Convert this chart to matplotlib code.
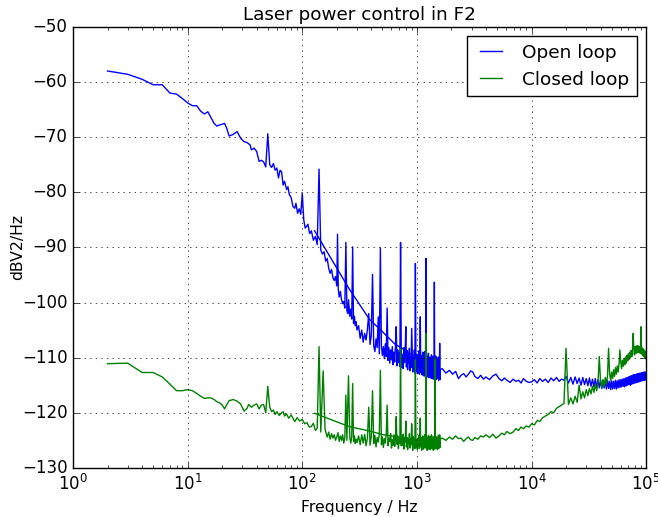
import numpy as np
import matplotlib
matplotlib.use('Agg')
from matplotlib import pyplot as plt

# open loop, low frequency part (Hz, dBV2/Hz)
open_lo_f = [2, 3, 4, 5, 6, 7, 8, 9, 10, 11, 12, 13, 14, 15, 16, 17, 18, 19, 21, 22,
             23, 25, 27, 29, 31, 33, 35, 36, 38, 40, 42, 44, 46, 48, 50, 52, 54, 56, 58, 60,
             62, 64, 66, 68, 70, 73, 75, 77, 80, 83, 86, 88, 91, 94, 97, 100, 103, 106, 109, 112,
             116, 120, 125, 130, 135, 140, 145, 150, 155, 160, 165, 170, 175, 180, 185, 190, 195, 200, 203, 206,
             210, 215, 220, 225, 230, 235, 240, 245, 250, 253, 260, 265, 270, 275, 280, 285, 290, 295, 300]
open_lo_db = [-58.0, -58.6, -59.5, -60.5, -60.5, -62.0, -62.2, -63.0, -63.8, -64.3, -64.3, -65.3, -65.8, -65.4, -66.5, -67.5, -68.0, -67.8, -67.5, -68.5,
              -69.8, -69.5, -69.0, -70.2, -70.8, -71.0, -71.4, -72.3, -72.0, -72.6, -74.4, -74.2, -74.5, -75.4, -69.4, -75.0, -75.5, -74.8, -76.0, -75.6,
              -77.4, -76.0, -76.3, -78.7, -78.0, -79.5, -79.0, -80.4, -81.0, -82.6, -82.9, -82.0, -83.8, -83.0, -84.0, -80.2, -85.0, -86.5, -86.2, -85.8,
              -87.5, -87.0, -88.7, -88.0, -89.5, -75.8, -90.5, -91.2, -90.8, -92.5, -92.0, -93.8, -94.7, -94.0, -95.5, -96.0, -95.3, -97.0, -87.6, -97.5,
              -99.0, -98.0, -99.5, -100.2, -99.8, -101.0, -89.1, -101.5, -102.0, -99.5, -102.5, -101.2, -103.0, -89.9, -103.8, -102.5, -104.2, -103.5, -105.0]

# open loop, dense part 310..1600 Hz, 10 Hz bins
open_mid_db = [-104.2, -106.5, -105.0, -107.2, -105.6, -106.8, -104.9, -102.0, -107.6, -106.0,
               -94.9, -107.8, -108.9, -106.6, -108.2, -102.6, -109.3, -90.1, -107.9, -109.6,
               -108.0, -110.2, -107.5, -109.8, -101.0, -110.5, -108.2, -111.0, -108.6, -110.4,
               -108.0, -111.3, -109.0, -110.8, -107.8, -104.4, -111.5, -108.6, -110.9, -109.2,
               -111.6, -89.1, -108.5, -111.8, -109.4, -112.0, -108.2, -110.9, -109.0, -104.4,
               -111.7, -108.7, -112.2, -109.5, -111.0, -108.3, -112.4, -109.9, -111.8, -104.7,
               -109.0, -112.6, -110.0, -111.9, -108.6, -112.8, -92.9, -110.2, -112.5, -109.4,
               -112.9, -110.1, -111.6, -108.8, -113.0, -110.3, -102.6, -112.7, -109.6, -113.1,
               -110.4, -112.2, -109.0, -113.3, -110.6, -112.0, -108.9, -113.4, -110.1, -92.0,
               -112.6, -109.8, -113.5, -110.7, -112.1, -109.2, -113.6, -110.5, -112.4, -109.9,
               -113.7, -110.8, -112.0, -109.5, -113.8, -111.0, -112.6, -109.8, -113.9, -110.6,
               -112.3, -96.3, -113.9, -110.9, -112.8, -109.7, -114.0, -111.2, -112.5, -110.1,
               -113.8, -111.4, -112.9, -109.9, -114.1, -111.0, -113.2, -107.4, -114.0, -112.3]

# closed loop, low frequency part
closed_lo_f = [2, 3, 4, 5, 6, 7, 8, 9, 10, 11, 12, 13, 14, 15, 16, 17, 18, 19, 20, 21,
               22, 23, 25, 27, 29, 31, 33, 34, 36, 38, 40, 42, 44, 46, 48, 50, 52, 54, 56, 58,
               60, 63, 66, 68, 70, 73, 76, 80, 83, 86, 90, 95, 100, 105, 110, 115, 120, 125, 130, 135,
               140, 145, 152, 158, 165, 170, 175, 180, 185, 190, 195, 200, 205, 210, 215, 220, 225, 230, 235, 240,
               245, 253, 260, 265, 270, 275, 280, 285, 290, 295, 300]
closed_lo_db = [-111.1, -111.0, -112.7, -112.7, -113.5, -114.8, -116.0, -116.0, -115.8, -116.0, -116.5, -117.0, -117.4, -117.3, -117.3, -117.6, -118.0, -118.2, -118.6, -119.3,
                -118.5, -117.8, -117.6, -117.9, -118.4, -119.7, -119.2, -118.5, -119.0, -118.6, -118.4, -119.3, -118.6, -118.5, -120.0, -115.2, -119.0, -119.8, -119.5, -120.3,
                -119.8, -120.5, -120.0, -119.8, -120.6, -120.2, -121.0, -120.4, -121.0, -121.6, -120.9, -121.5, -121.2, -122.0, -121.8, -122.6, -122.5, -121.9, -123.2, -122.8,
                -108.0, -123.5, -112.4, -123.0, -124.4, -123.5, -124.8, -123.8, -124.6, -124.0, -125.0, -124.4, -123.6, -125.2, -124.2, -125.0, -124.0, -125.5, -124.5, -116.8,
                -125.0, -113.3, -124.6, -125.5, -124.3, -114.7, -125.2, -124.2, -125.6, -124.8, -125.4]

closed_mid_db = [-124.2, -125.8, -124.0, -125.5, -123.9, -126.0, -124.6, -119.0, -125.9, -124.3,
                 -116.0, -125.6, -124.1, -126.2, -124.5, -125.3, -123.8, -112.3, -125.8, -124.4,
                 -126.3, -124.7, -125.5, -123.9, -118.6, -126.0, -124.6, -125.2, -123.8, -126.4,
                 -124.9, -125.9, -124.0, -126.1, -124.6, -120.7, -125.7, -124.2, -126.5, -124.8,
                 -125.5, -108.3, -126.0, -124.4, -125.9, -123.9, -126.6, -124.6, -125.3, -121.5,
                 -126.2, -124.5, -126.7, -124.9, -125.6, -123.8, -126.4, -124.7, -125.8, -122.0,
                 -125.0, -126.8, -124.3, -126.0, -124.8, -126.5, -110.4, -124.4, -126.3, -124.9,
                 -126.7, -124.6, -125.8, -124.1, -126.5, -124.8, -121.0, -126.2, -124.5, -126.8,
                 -124.7, -126.1, -124.2, -126.6, -124.9, -125.9, -124.0, -126.4, -124.6, -105.6,
                 -126.3, -124.5, -126.8, -124.8, -125.7, -124.1, -126.6, -124.9, -126.0, -124.3,
                 -126.7, -124.6, -125.8, -124.0, -126.5, -124.9, -126.2, -124.4, -126.8, -124.7,
                 -125.9, -124.2, -126.6, -110.1, -125.7, -124.3, -126.4, -124.8, -126.1, -124.5,
                 -126.7, -124.9, -125.6, -124.1, -126.5, -124.6, -126.2, -124.0, -126.3, -124.8]

# second measurement, coarse bins from 128 Hz up to 20 kHz
hi_f = [128, 256, 384, 512, 640, 768, 896, 1024, 1152, 1280, 1408, 1536, 1664, 1792, 1920, 2048, 2176, 2304, 2432, 2560,
        2688, 2816, 2944, 3072, 3200, 3400, 3600, 3800, 4000, 4300, 4600, 4900, 5200, 5500, 5800, 6100, 6500, 6900, 7300, 7700,
        8100, 8500, 9000, 9500, 10000, 10600, 11200, 11800, 12500, 13200, 14000, 14800, 15600, 16500, 17400, 18300, 19200]
open_hi_db = [-87.0, -97.5, -103.0, -105.5, -107.5, -108.5, -109.5, -110.0, -110.8, -111.2, -111.8, -112.3, -112.0, -112.8, -112.3, -113.0, -112.5, -113.8, -113.2, -112.9,
              -113.5, -113.0, -112.4, -112.6, -113.4, -113.8, -113.2, -113.9, -113.5, -114.0, -113.3, -113.0, -113.8, -114.2, -113.7, -114.1, -114.5, -113.9, -114.3, -114.1,
              -114.6, -113.8, -114.3, -114.5, -114.4, -114.0, -114.6, -113.8, -114.3, -113.9, -114.5, -113.7, -114.2, -113.6, -114.3, -113.9, -114.1]
closed_hi_db = [-120.1, -122.5, -123.3, -124.0, -124.3, -124.6, -124.8, -124.9, -125.0, -125.0, -125.1, -124.9, -124.6, -125.0, -124.4, -124.8, -124.2, -124.7, -124.6, -125.2,
                -124.7, -124.4, -124.9, -125.0, -124.5, -124.8, -124.2, -124.4, -124.0, -124.5, -123.9, -124.6, -124.2, -123.7, -124.0, -123.4, -123.8, -123.5, -122.9, -123.2,
                -122.6, -122.9, -122.4, -122.6, -122.0, -122.2, -121.4, -121.6, -120.9, -120.6, -120.3, -119.8, -120.0, -119.2, -118.9, -118.6, -118.3]

# 20 kHz .. 100 kHz, 1 kHz bins
open_top_db = [-113.4, -114.6, -113.6, -114.8, -113.5, -114.7, -113.7, -115.0, -113.6, -114.9,
               -113.8, -115.1, -113.7, -115.2, -113.9, -115.3, -113.8, -115.4, -114.0, -115.5,
               -114.0, -115.6, -114.1, -115.5, -114.2, -115.7, -114.1, -115.6, -114.3, -115.8,
               -114.2, -115.7, -114.3, -115.6, -114.1, -115.7, -114.2, -115.5, -114.0, -115.4,
               -114.0, -115.3, -113.9, -115.2, -113.8, -115.3, -113.7, -115.1, -113.6, -115.0,
               -113.5, -114.9, -113.4, -115.0, -113.3, -114.8, -113.2, -114.7, -113.1, -114.6,
               -113.1, -114.6, -113.0, -114.5, -112.9, -114.4, -112.9, -114.4, -112.8, -114.3,
               -112.8, -114.2, -112.7, -114.2, -112.7, -114.1, -112.6, -114.1, -112.6, -114.0,
               -113.2]
closed_top_db = [-108.3, -118.5, -117.3, -118.4, -117.0, -118.1, -115.0, -117.5, -116.2, -117.3,
                 -115.8, -116.9, -115.6, -116.6, -115.2, -116.3, -114.9, -116.0, -114.6, -109.8,
                 -114.3, -115.5, -114.0, -115.2, -113.6, -114.8, -113.3, -108.3, -113.0, -114.1,
                 -112.6, -113.8, -112.2, -113.4, -111.8, -113.0, -111.5, -112.6, -111.2, -108.6,
                 -110.8, -112.0, -110.5, -111.6, -110.2, -111.3, -109.9, -111.0, -109.6, -110.6,
                 -109.3, -110.3, -109.0, -110.0, -108.7, -109.8, -108.5, -105.6, -108.3, -109.5,
                 -108.0, -109.3, -107.9, -109.1, -107.8, -109.0, -107.9, -109.1, -108.0, -109.2,
                 -104.4, -109.3, -108.2, -109.6, -108.4, -109.8, -108.6, -110.0, -108.8, -110.2,
                 -109.3]

mid_f = np.arange(310, 1601, 10)
top_f = np.arange(20000, 100001, 1000)

plt.style.use('classic')
fig = plt.figure(figsize=(6.58, 5.17), dpi=100, facecolor='white')
ax = fig.add_axes([0.111, 0.095, 0.871, 0.853])

ax.plot(np.concatenate([open_lo_f, mid_f]), np.concatenate([open_lo_db, open_mid_db]),
        color='b', lw=1, label='Open loop')
ax.plot(np.concatenate([hi_f, top_f]), np.concatenate([open_hi_db, open_top_db]), color='b', lw=1)
ax.plot(np.concatenate([closed_lo_f, mid_f]), np.concatenate([closed_lo_db, closed_mid_db]),
        color='g', lw=1, label='Closed loop')
ax.plot(np.concatenate([hi_f, top_f]), np.concatenate([closed_hi_db, closed_top_db]), color='g', lw=1)

ax.set_xscale('log')
ax.set_xlim(1, 1e5)
ax.set_ylim(-130, -50)
ax.grid(True)
ax.set_title('Laser power control in F2', fontsize=13.2)
ax.set_xlabel('Frequency / Hz', fontsize=11.3)
ax.set_ylabel('dBV2/Hz', fontsize=11.3)
ax.yaxis.set_label_coords(-0.084, 0.5)
ax.legend(loc='upper right', fontsize=13.3, handlelength=1.8)

fig.savefig('out.png', dpi=100, facecolor='white')
